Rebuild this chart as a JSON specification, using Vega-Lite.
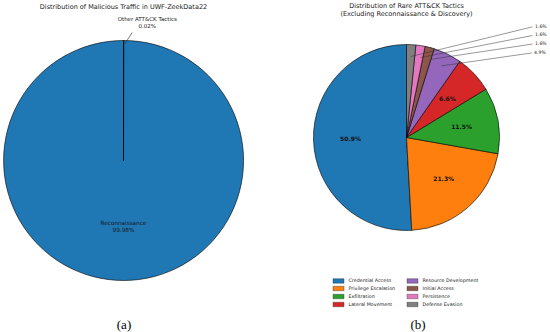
{
  "$schema": "https://vega.github.io/schema/vega-lite/v6.json",
  "padding": {"left": 1.5, "top": 2.5, "right": 0, "bottom": 0},
  "background": "white",
  "bounds": "flush",
  "spacing": 70,
  "resolve": {"scale": {"color": "independent"}, "legend": {"color": "independent"}},
  "config": {"view": {"stroke": null}, "font": "DejaVu Sans"},
  "datasets": {
    "traffic": [
      {"tactic": "Reconnaissance", "share": 0.9998, "ord": 2},
      {"tactic": "Other ATT&CK Tactics", "share": 0.0002, "ord": 1}
    ],
    "trafficCallout": [
      {"tactic": "Other ATT&CK Tactics", "share": 0.0002, "x0": 0.011, "y0": 0.972, "x1": 0.073, "y1": 1.067}
    ],
    "rare": [
      {"tactic": "Credential Access", "share": 0.509, "ord": 8},
      {"tactic": "Privilege Escalation", "share": 0.213, "ord": 7},
      {"tactic": "Exfiltration", "share": 0.115, "ord": 6},
      {"tactic": "Lateral Movement", "share": 0.066, "ord": 5},
      {"tactic": "Resource Development", "share": 0.049, "ord": 4},
      {"tactic": "Initial Access", "share": 0.016, "ord": 3},
      {"tactic": "Persistence", "share": 0.016, "ord": 2},
      {"tactic": "Defense Evasion", "share": 0.016, "ord": 1}
    ],
    "rareCallout": [
      {"tactic": "Defense Evasion", "share": 0.016, "x0": 0.045, "y0": 0.87, "x1": 1.355, "y1": 1.19},
      {"tactic": "Persistence", "share": 0.016, "x0": 0.15, "y0": 0.86, "x1": 1.355, "y1": 1.097},
      {"tactic": "Initial Access", "share": 0.016, "x0": 0.26, "y0": 0.84, "x1": 1.355, "y1": 1.005},
      {"tactic": "Resource Development", "share": 0.049, "x0": 0.375, "y0": 0.77, "x1": 1.345, "y1": 0.909}
    ]
  },
  "hconcat": [
    {
      "width": 240,
      "height": 232,
      "title": {"text": "Distribution of Malicious Traffic in UWF-ZeekData22", "fontSize": 6.5, "fontWeight": "normal", "font": "DejaVu Sans", "color": "#1a1a1a", "offset": 7},
      "layer": [
        {
          "data": {"name": "traffic"},
          "mark": {"type": "arc", "outerRadius": 120, "stroke": "black", "strokeWidth": 0.6, "color": "#1f77b4"},
          "encoding": {
            "theta": {"field": "share", "type": "quantitative", "stack": true},
            "order": {"field": "ord", "type": "quantitative"}
          }
        },
        {
          "data": {"name": "traffic"},
          "mark": {"type": "text", "radius": 66, "dy": -3.3, "fontSize": 5.7, "color": "#1a1a1a"},
          "encoding": {
            "theta": {"field": "share", "type": "quantitative", "stack": true},
            "order": {"field": "ord", "type": "quantitative"},
            "text": {"condition": {"test": "datum.share < 0.01", "value": ""}, "field": "tactic"}
          }
        },
        {
          "data": {"name": "traffic"},
          "mark": {"type": "text", "radius": 66, "dy": 3.3, "fontSize": 5.7, "color": "#1a1a1a"},
          "encoding": {
            "theta": {"field": "share", "type": "quantitative", "stack": true},
            "order": {"field": "ord", "type": "quantitative"},
            "text": {"condition": {"test": "datum.share < 0.01", "value": ""}, "field": "share", "format": ".2%"}
          }
        },
        {
          "data": {"name": "trafficCallout"},
          "mark": {"type": "rule", "strokeWidth": 0.6, "color": "#222"},
          "encoding": {
            "x": {"field": "x0", "type": "quantitative", "scale": {"domain": [-1, 1], "nice": false}, "axis": {"title": "(a)", "labels": false, "ticks": false, "domain": false, "grid": false, "titleFont": "Liberation Serif", "titleFontSize": 13, "titleFontWeight": "normal", "titleColor": "black", "titlePadding": 42}},
            "y": {"field": "y0", "type": "quantitative", "scale": {"domain": [-0.9667, 0.9667], "nice": false}, "axis": null},
            "x2": {"field": "x1"},
            "y2": {"field": "y1"}
          }
        },
        {
          "data": {"name": "trafficCallout"},
          "mark": {"type": "text", "fontSize": 5.5, "dx": 15, "dy": -10, "baseline": "bottom", "align": "center", "color": "#1a1a1a"},
          "encoding": {
            "x": {"field": "x1", "type": "quantitative", "axis": {"title": "(a)", "labels": false, "ticks": false, "domain": false, "grid": false, "titleFont": "Liberation Serif", "titleFontSize": 13, "titleFontWeight": "normal", "titleColor": "black", "titlePadding": 42}},
            "y": {"field": "y1", "type": "quantitative", "axis": null},
            "text": {"field": "tactic"}
          }
        },
        {
          "data": {"name": "trafficCallout"},
          "mark": {"type": "text", "fontSize": 5.5, "dx": 15, "dy": -3.5, "baseline": "bottom", "align": "center", "color": "#1a1a1a"},
          "encoding": {
            "x": {"field": "x1", "type": "quantitative", "axis": {"title": "(a)", "labels": false, "ticks": false, "domain": false, "grid": false, "titleFont": "Liberation Serif", "titleFontSize": 13, "titleFontWeight": "normal", "titleColor": "black", "titlePadding": 42}},
            "y": {"field": "y1", "type": "quantitative", "axis": null},
            "text": {"field": "share", "format": ".2%"}
          }
        }
      ]
    },
    {
      "width": 186,
      "height": 186,
      "title": {"text": ["Distribution of Rare ATT&CK Tactics", "(Excluding Reconnaissance & Discovery)"], "fontSize": 6.5, "fontWeight": "normal", "font": "DejaVu Sans", "color": "#1a1a1a", "offset": 6, "lineHeight": 8.7},
      "layer": [
        {
          "data": {"name": "rare"},
          "mark": {"type": "arc", "outerRadius": 93, "stroke": "black", "strokeWidth": 0.6},
          "encoding": {
            "theta": {"field": "share", "type": "quantitative", "stack": true},
            "order": {"field": "ord", "type": "quantitative"},
            "color": {
              "field": "tactic",
              "type": "nominal",
              "scale": {
                "domain": ["Credential Access", "Privilege Escalation", "Exfiltration", "Lateral Movement", "Resource Development", "Initial Access", "Persistence", "Defense Evasion"],
                "range": ["#1f77b4", "#ff7f0e", "#2ca02c", "#d62728", "#9467bd", "#8c564b", "#e377c2", "#7f7f7f"]
              },
              "legend": {
                "orient": "none", "legendX": 22, "legendY": 233, "columns": 2, "title": null,
                "symbolType": "M-2.2,-0.9H2.2V0.9H-2.2Z", "symbolSize": 25, "symbolStrokeColor": "#333", "symbolStrokeWidth": 0.4, "symbolOpacity": 1,
                "labelFontSize": 4.8, "labelFont": "DejaVu Sans", "labelColor": "#1a1a1a", "labelOffset": 7,
                "rowPadding": 0, "columnPadding": 10, "padding": 0
              }
            }
          }
        },
        {
          "data": {"name": "rare"},
          "mark": {"type": "text", "radius": 56, "fontSize": 6, "fontWeight": "bold", "color": "#111"},
          "encoding": {
            "theta": {"field": "share", "type": "quantitative", "stack": true},
            "order": {"field": "ord", "type": "quantitative"},
            "text": {"condition": {"test": "datum.share < 0.05", "value": ""}, "field": "share", "format": ".1%"}
          }
        },
        {
          "data": {"name": "rareCallout"},
          "mark": {"type": "rule", "strokeWidth": 0.5, "color": "#333"},
          "encoding": {
            "x": {"field": "x0", "type": "quantitative", "scale": {"domain": [-1, 1], "nice": false}, "axis": {"title": "(b)", "labels": false, "ticks": false, "domain": false, "grid": false, "titleFont": "Liberation Serif", "titleFontSize": 13, "titleFontWeight": "normal", "titleColor": "black", "titlePadding": 88, "titleX": 104}},
            "y": {"field": "y0", "type": "quantitative", "scale": {"domain": [-1, 1], "nice": false}, "axis": null},
            "x2": {"field": "x1"},
            "y2": {"field": "y1"}
          }
        },
        {
          "data": {"name": "rareCallout"},
          "mark": {"type": "text", "fontSize": 4.6, "dx": 2.5, "align": "left", "baseline": "middle", "color": "#1a1a1a"},
          "encoding": {
            "x": {"field": "x1", "type": "quantitative", "axis": {"title": "(b)", "labels": false, "ticks": false, "domain": false, "grid": false, "titleFont": "Liberation Serif", "titleFontSize": 13, "titleFontWeight": "normal", "titleColor": "black", "titlePadding": 88, "titleX": 104}},
            "y": {"field": "y1", "type": "quantitative", "axis": null},
            "text": {"field": "share", "format": ".1%"}
          }
        }
      ]
    }
  ]
}
